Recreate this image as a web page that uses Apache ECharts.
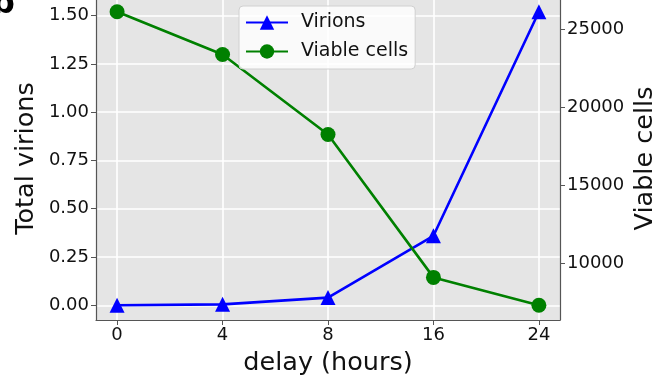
<!DOCTYPE html>
<html><head><meta charset="utf-8">
<script src="https://cdn.jsdelivr.net/npm/echarts@6/dist/echarts.min.js"></script>
<style>html,body{margin:0;padding:0;background:#fff}#c{width:660px;height:378px}</style>
</head><body><div id="c"></div>
<script>
const categories = ['0', '4', '8', '16', '24'];
const virions = [0.0, 0.005, 0.04, 0.36, 1.52];
const viableCells = [26150, 23400, 18270, 9100, 7310];
const leftTicks = [0, 0.25, 0.5, 0.75, 1.0, 1.25, 1.5];
const rightTicks = [10000, 15000, 20000, 25000];
const xTicks = [0, 1, 2, 3, 4];

const FONT = 'DejaVu Sans';
const chart = echarts.init(document.getElementById('c'), null, {renderer: 'canvas'});
const pairs = a => a.map((v, i) => [i, v]);
chart.setOption({
  animation: false,
  backgroundColor: '#ffffff',
  textStyle: {fontFamily: FONT},
  graphic: [{
    type: 'text', left: -8, top: -11,
    style: {text: 'b', font: 'bold 32px "DejaVu Sans"', fill: '#000'}
  }],
  grid: {left: 96, right: 100, top: -3, bottom: 58, backgroundColor: '#e5e5e5', show: true, borderWidth: 0,
    containLabel: false, outerBoundsMode: 'none'},
  legend: {
    orient: 'vertical', left: 239, top: 6,
    padding: [7, 7, 8, 6],
    itemWidth: 42, itemHeight: 18, itemGap: 10,
    backgroundColor: 'rgba(255,255,255,0.8)', borderColor: '#d0d0d0', borderWidth: 1, borderRadius: 4,
    textStyle: {fontFamily: FONT, fontSize: 19, color: '#111', padding: [0, 0, 0, 8]},
    data: ['Virions', 'Viable cells']
  },
  xAxis: {
    type: 'value', min: -0.2, max: 4.2,
    name: 'delay (hours)', nameLocation: 'middle', nameGap: 30, nameMoveOverlap: false,
    nameTextStyle: {fontFamily: FONT, fontSize: 25.5, color: '#111'},
    axisLine: {show: true, onZero: false, lineStyle: {color: '#555', width: 1.2}},
    axisTick: {show: true, length: 5, lineStyle: {color: '#555'}, customValues: xTicks},
    axisLabel: {fontFamily: FONT, fontSize: 18, color: '#111', margin: 6, customValues: xTicks,
      formatter: v => categories[Math.round(v)]},
    splitLine: {show: true, lineStyle: {color: '#ffffff', width: 1.6}}
  },
  yAxis: [{
    type: 'value', min: -0.076, max: 1.596, position: 'left',
    name: 'Total virions', nameLocation: 'middle', nameGap: 57, nameRotate: 90, nameMoveOverlap: false,
    nameTextStyle: {fontFamily: FONT, fontSize: 25.5, color: '#111'},
    axisLine: {show: true, onZero: false, lineStyle: {color: '#555', width: 1.2}},
    axisTick: {show: true, length: 5, lineStyle: {color: '#555'}, customValues: leftTicks},
    axisLabel: {fontFamily: FONT, fontSize: 18, color: '#111', margin: 7, customValues: leftTicks,
      formatter: v => v.toFixed(2)},
    splitLine: {show: true, lineStyle: {color: '#ffffff', width: 1.6}}
  }, {
    type: 'value', min: 6366, max: 27092, position: 'right',
    name: 'Viable cells', nameLocation: 'middle', nameGap: 72, nameRotate: 90, nameMoveOverlap: false,
    nameTextStyle: {fontFamily: FONT, fontSize: 25.5, color: '#111'},
    axisLine: {show: true, onZero: false, lineStyle: {color: '#555', width: 1.2}},
    axisTick: {show: true, length: 5, lineStyle: {color: '#555'}, customValues: rightTicks},
    axisLabel: {fontFamily: FONT, fontSize: 18, color: '#111', margin: 7, customValues: rightTicks,
      formatter: v => String(v)},
    splitLine: {show: false}
  }],
  series: [{
    name: 'Virions', type: 'line', yAxisIndex: 0, data: pairs(virions),
    symbol: 'triangle', symbolSize: 15,
    lineStyle: {color: '#0000ff', width: 2.6}, itemStyle: {color: '#0000ff'}
  }, {
    name: 'Viable cells', type: 'line', yAxisIndex: 1, data: pairs(viableCells),
    symbol: 'circle', symbolSize: 15,
    lineStyle: {color: '#008000', width: 2.6}, itemStyle: {color: '#008000'}
  }]
});
</script></body></html>
